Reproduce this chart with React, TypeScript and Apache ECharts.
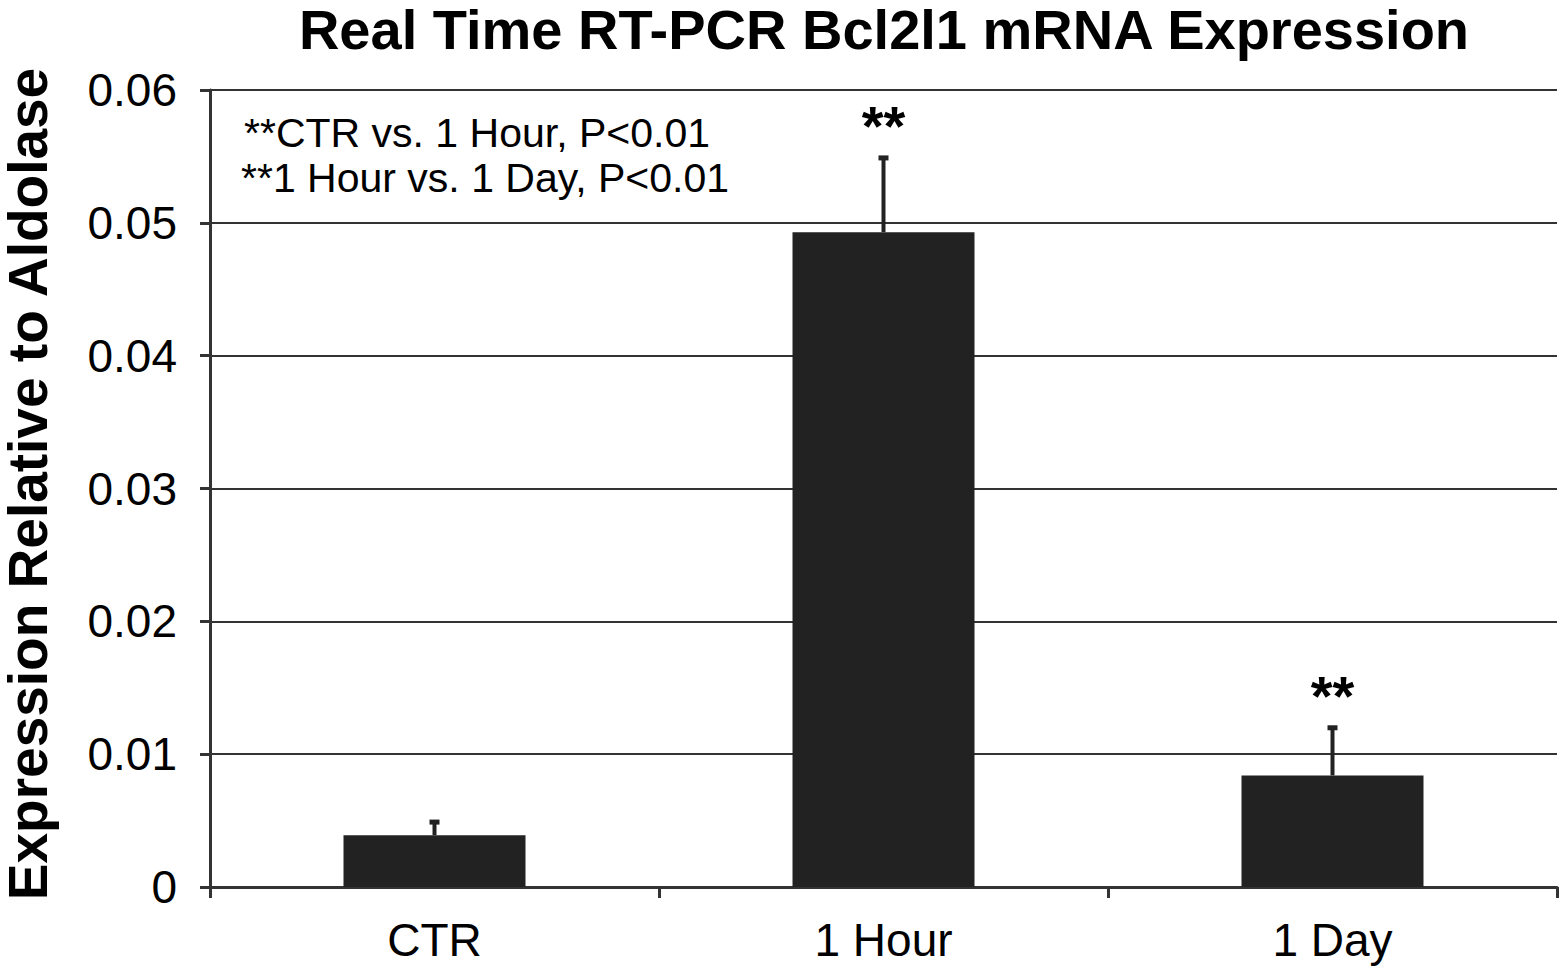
import React, { useEffect, useRef } from "react";
import * as echarts from "echarts";

const categories = ["CTR", "1 Hour", "1 Day"];
const means = [0.0039, 0.0493, 0.0084];
const errorTops = [0.0050, 0.0550, 0.0121];
const significance = ["", "**", "**"];
const yTicks = { min: 0, max: 0.06, interval: 0.01 };
const titleText = "Real Time RT-PCR Bcl2l1 mRNA Expression";
const yAxisTitle = "Expression Relative to Aldolase";
const notes = ["**CTR vs. 1 Hour, P<0.01", "**1 Hour vs. 1 Day, P<0.01"];

const FONT = "'Liberation Sans', Arial, Helvetica, sans-serif";
const DARK = "#222222";
const AXIS = "#333333";

export default function App() {
  const ref = useRef<HTMLDivElement>(null);

  useEffect(() => {
    if (!ref.current) return;
    const chart = echarts.init(ref.current, undefined, { renderer: "svg" });

    const errData = categories.map((c, i) => [i, means[i], errorTops[i], significance[i]]);

    const option: any = {
      animation: false,
      backgroundColor: "#ffffff",
      grid: { left: 210, right: 2, top: 90, bottom: 86, containLabel: false },
      xAxis: {
        type: "category",
        data: categories,
        boundaryGap: true,
        axisLine: { show: true, lineStyle: { color: AXIS, width: 3 } },
        axisTick: { show: true, length: 11, lineStyle: { color: AXIS, width: 3 }, alignWithLabel: false },
        axisLabel: { fontFamily: FONT, fontSize: 46, color: "#000", margin: 30 },
        splitLine: { show: false },
      },
      yAxis: {
        type: "value",
        min: yTicks.min,
        max: yTicks.max,
        interval: yTicks.interval,
        axisLine: { show: true, lineStyle: { color: AXIS, width: 3 } },
        axisTick: { show: true, length: 10, lineStyle: { color: AXIS, width: 3 } },
        axisLabel: {
          fontFamily: FONT,
          fontSize: 46,
          color: "#000",
          margin: 33,
          formatter: (v: number) => (Math.abs(v) < 1e-9 ? "0" : v.toFixed(2)),
        },
        splitLine: { show: true, lineStyle: { color: AXIS, width: 2 } },
      },
      graphic: [
        {
          type: "text",
          x: 884,
          y: 29,
          style: {
            text: titleText,
            fontFamily: FONT,
            fontSize: 56,
            lineHeight: 46,
            fontWeight: "bold",
            fill: "#000",
            align: "center",
            verticalAlign: "middle",
          },
        },
        {
          type: "text",
          x: 28,
          y: 484,
          rotation: Math.PI / 2,
          style: {
            text: yAxisTitle,
            fontFamily: FONT,
            fontSize: 55,
            lineHeight: 44,
            fontWeight: "bold",
            fill: "#000",
            align: "center",
            verticalAlign: "middle",
          },
        },
        {
          type: "text",
          x: 244,
          y: 133,
          style: {
            text: notes[0],
            fontFamily: FONT,
            fontSize: 41,
            fill: "#000",
            align: "left",
            verticalAlign: "middle",
          },
        },
        {
          type: "text",
          x: 241,
          y: 178,
          style: {
            text: notes[1],
            fontFamily: FONT,
            fontSize: 41,
            fill: "#000",
            align: "left",
            verticalAlign: "middle",
          },
        },
      ],
      series: [
        {
          type: "bar",
          data: means,
          barWidth: 182,
          itemStyle: { color: DARK },
          z: 2,
        },
        {
          type: "custom",
          data: errData,
          z: 3,
          renderItem: (params: any, api: any) => {
            const idx = api.value(0);
            const base = api.coord([idx, api.value(1)]);
            const top = api.coord([idx, api.value(2)]);
            const sig = significance[params.dataIndex];
            const children: any[] = [
              {
                type: "line",
                shape: { x1: base[0], y1: base[1], x2: top[0], y2: top[1] },
                style: { stroke: DARK, lineWidth: 4 },
              },
              {
                type: "rect",
                shape: { x: top[0] - 5, y: top[1] - 1, width: 10, height: 5 },
                style: { fill: DARK },
              },
            ];
            if (sig) {
              children.push({
                type: "text",
                x: top[0],
                y: top[1] - 31,
                style: {
                  text: sig,
                  fontFamily: FONT,
                  fontSize: 56,
                  fontWeight: "bold",
                  fill: "#000",
                  align: "center",
                  verticalAlign: "middle",
                },
              });
            }
            return { type: "group", children };
          },
        },
      ],
    };

    chart.setOption(option);
    return () => chart.dispose();
  }, []);

  return (
    <div
      ref={ref}
      style={{ position: "absolute", left: 0, top: 0, width: 1559, height: 973, background: "#fff" }}
    />
  );
}
